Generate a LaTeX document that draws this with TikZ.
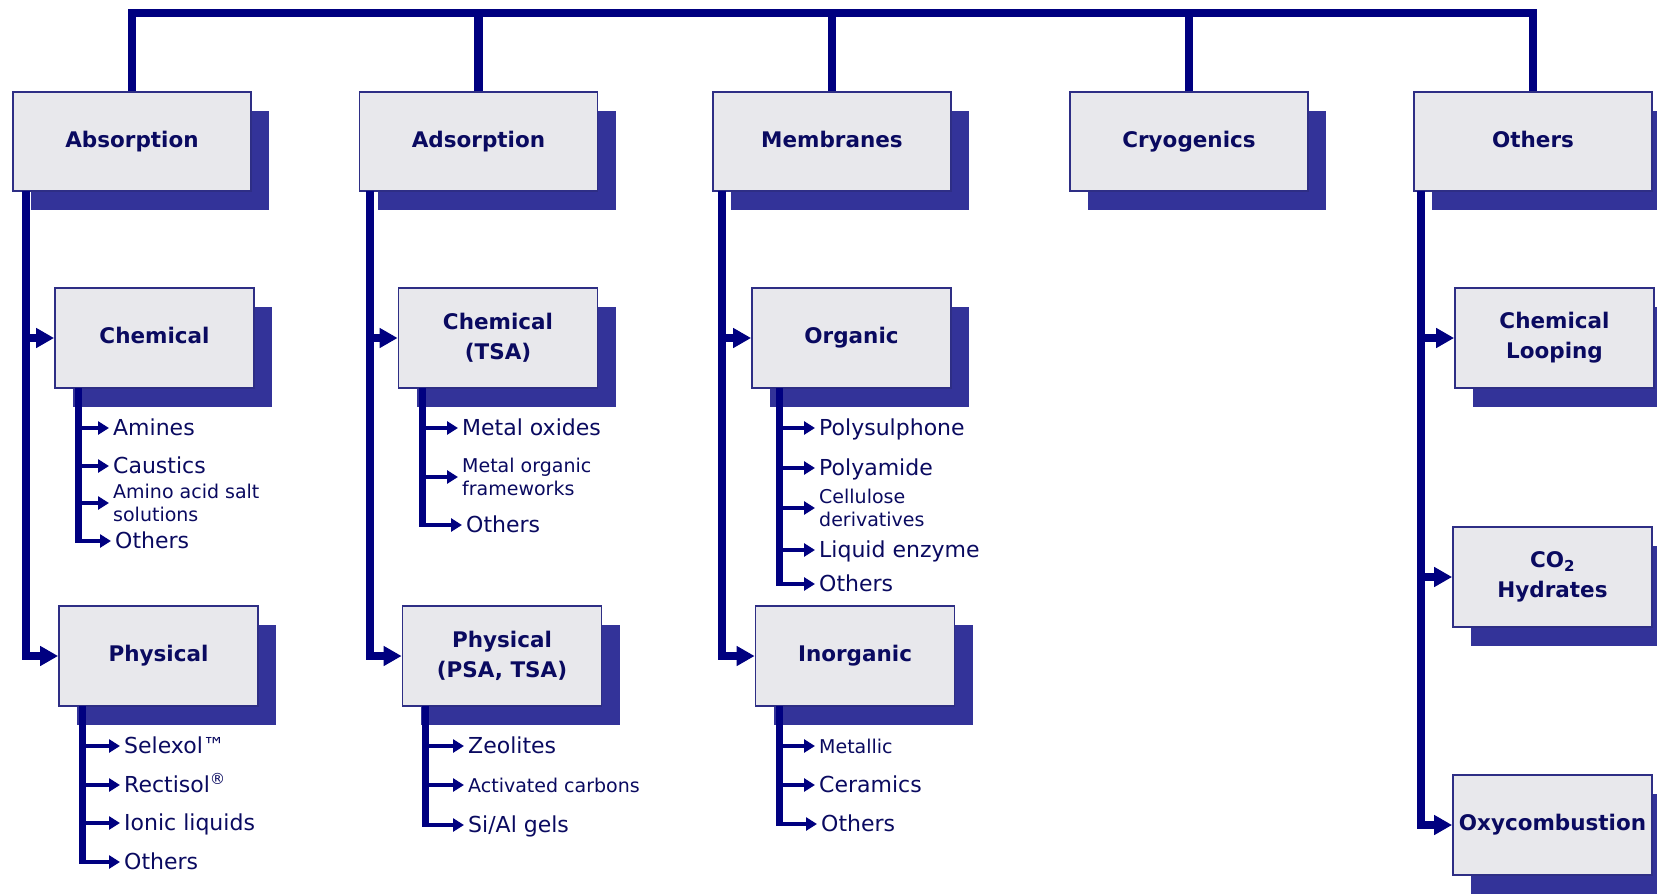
\documentclass[tikz,border=0pt]{standalone}
\usepackage{fontspec}
\setmainfont{DejaVu Sans}
\usetikzlibrary{arrows.meta,shadows}
\definecolor{navyline}{HTML}{000080}
\definecolor{boxfill}{HTML}{E8E8EC}
\definecolor{boxdraw}{HTML}{2E2E85}
\definecolor{shadowc}{HTML}{333399}
\definecolor{txt}{HTML}{0A0A60}
\begin{document}
\begin{tikzpicture}[x=1pt,y=-1pt,
  catbox/.style={rectangle, draw=boxdraw, line width=1.8pt, fill=boxfill,
    minimum width=238pt, minimum height=99pt, inner sep=0pt, align=center,
    text=txt, font=\fontsize{21.5}{30}\selectfont\bfseries,
    general shadow={fill=shadowc, shadow xshift=18pt, shadow yshift=-19pt}},
  subbox/.style={catbox, minimum width=199pt, minimum height=100pt},
  oneline/.style={text height=16pt, text depth=5pt},
  item/.style={anchor=west, inner xsep=4pt, inner ysep=0pt, text=txt,
    font=\fontsize{22}{26}\selectfont, text height=16pt, text depth=1pt},
  smallitem/.style={anchor=west, inner xsep=4pt, inner ysep=0pt, text=txt,
    font=\fontsize{19}{23}\selectfont, align=left},
  trunk/.style={draw=navyline, line width=8.5pt},
  branch/.style={trunk, -{Triangle[length=18pt,width=19pt]}},
  subtrunk/.style={draw=navyline, line width=7pt},
  subarrow/.style={draw=navyline, line width=4.5pt, -{Triangle[length=11pt,width=13pt]}},
]
\useasboundingbox (0,0) rectangle (1657,894);
\clip (0,0) rectangle (1657,894);
\fill[white] (0,0) rectangle (1657,894);

% top-level boxes
\node[catbox,oneline] (abs)  at (132,141.5)  {Absorption};
\node[catbox,oneline] (ads)  at (478.5,141.5) {Adsorption};
\node[catbox,oneline] (mem)  at (832,141.5)  {Membranes};
\node[catbox,oneline] (cryo) at (1189,141.5) {Cryogenics};
\node[catbox,oneline] (oth)  at (1533,141.5) {Others};

% second-level boxes
\node[subbox,oneline] (chem)  at (154.5,338) {Chemical};
\node[subbox,oneline] (phys)  at (158.5,656) {Physical};
\node[subbox] (ctsa)  at (498,338)   {Chemical\\(TSA)};
\node[subbox] (ppsa)  at (502,656)   {Physical\\(PSA, TSA)};
\node[subbox,oneline] (org)   at (851.5,338) {Organic};
\node[subbox,oneline] (inorg) at (855,656)   {Inorganic};
\node[subbox] (cl)    at (1554.5,338) {Chemical\\Looping};
\node[subbox] (co2)   at (1552.5,577) {CO\textsubscript{2}\\Hydrates};
\node[subbox,oneline] (oxy)   at (1552.5,825) {Oxycombustion};

% top bus
\coordinate (bus) at (0,13);
\draw[trunk] (abs.north) -- (abs.north |- bus) -- (oth.north |- bus) -- (oth.north);
\draw[trunk] (ads.north) -- (ads.north |- bus);
\draw[trunk] (mem.north) -- (mem.north |- bus);
\draw[trunk] (cryo.north) -- (cryo.north |- bus);

% main trunks
\coordinate (absT) at (26,191);
\draw[branch] (absT) |- (phys.west);
\draw[branch] (absT |- chem.west) -- (chem.west);
\coordinate (adsT) at (370,191);
\draw[branch] (adsT) |- (ppsa.west);
\draw[branch] (adsT |- ctsa.west) -- (ctsa.west);
\coordinate (memT) at (722,191);
\draw[branch] (memT) |- (inorg.west);
\draw[branch] (memT |- org.west) -- (org.west);
\coordinate (othT) at (1421,191);
\draw[branch] (othT) |- (oxy.west);
\draw[branch] (othT |- cl.west) -- (cl.west);
\draw[branch] (othT |- co2.west) -- (co2.west);

% Chemical list
\coordinate (chT) at (78,388);
\node[item] (ch1) at (109,428) {Amines};
\node[item] (ch2) at (109,466) {Caustics};
\node[smallitem] (ch3) at (109,503) {Amino acid salt\\solutions};
\node[item] (ch4) at (111,541) {Others};
\draw[subtrunk] (chT) -- ([yshift=-2.25pt]chT |- ch4.west);
\foreach \n in {ch1,ch2,ch3,ch4} \draw[subarrow] (chT |- \n.west) -- (\n.west);

% Physical list
\coordinate (phT) at (82,706);
\node[item] (ph1) at (120,746) {Selexol™};
\node[item] (ph2) at (120,785) {Rectisol\textsuperscript{®}};
\node[item] (ph3) at (120,823) {Ionic liquids};
\node[item] (ph4) at (120,862) {Others};
\draw[subtrunk] (phT) -- ([yshift=-2.25pt]phT |- ph4.west);
\foreach \n in {ph1,ph2,ph3,ph4} \draw[subarrow] (phT |- \n.west) -- (\n.west);

% Chemical (TSA) list
\coordinate (ctT) at (422,388);
\node[item] (ct1) at (458,428) {Metal oxides};
\node[smallitem] (ct2) at (458,477) {Metal organic\\frameworks};
\node[item] (ct3) at (462,525) {Others};
\draw[subtrunk] (ctT) -- ([yshift=-2.25pt]ctT |- ct3.west);
\foreach \n in {ct1,ct2,ct3} \draw[subarrow] (ctT |- \n.west) -- (\n.west);

% Physical (PSA, TSA) list
\coordinate (ppT) at (425,706);
\node[item] (pp1) at (464,746) {Zeolites};
\node[smallitem] (pp2) at (464,785) {Activated carbons};
\node[item] (pp3) at (464,825) {Si/Al gels};
\draw[subtrunk] (ppT) -- ([yshift=-2.25pt]ppT |- pp3.west);
\foreach \n in {pp1,pp2,pp3} \draw[subarrow] (ppT |- \n.west) -- (\n.west);

% Organic list
\coordinate (orT) at (779,388);
\node[item] (or1) at (815,428) {Polysulphone};
\node[item] (or2) at (815,468) {Polyamide};
\node[smallitem] (or3) at (815,508) {Cellulose\\derivatives};
\node[item] (or4) at (815,550) {Liquid enzyme};
\node[item] (or5) at (815,584) {Others};
\draw[subtrunk] (orT) -- ([yshift=-2.25pt]orT |- or5.west);
\foreach \n in {or1,or2,or3,or4,or5} \draw[subarrow] (orT |- \n.west) -- (\n.west);

% Inorganic list
\coordinate (inT) at (779,706);
\node[smallitem] (in1) at (815,746) {Metallic};
\node[item] (in2) at (815,785) {Ceramics};
\node[item] (in3) at (817,824) {Others};
\draw[subtrunk] (inT) -- ([yshift=-2.25pt]inT |- in3.west);
\foreach \n in {in1,in2,in3} \draw[subarrow] (inT |- \n.west) -- (\n.west);
\end{tikzpicture}
\end{document}
